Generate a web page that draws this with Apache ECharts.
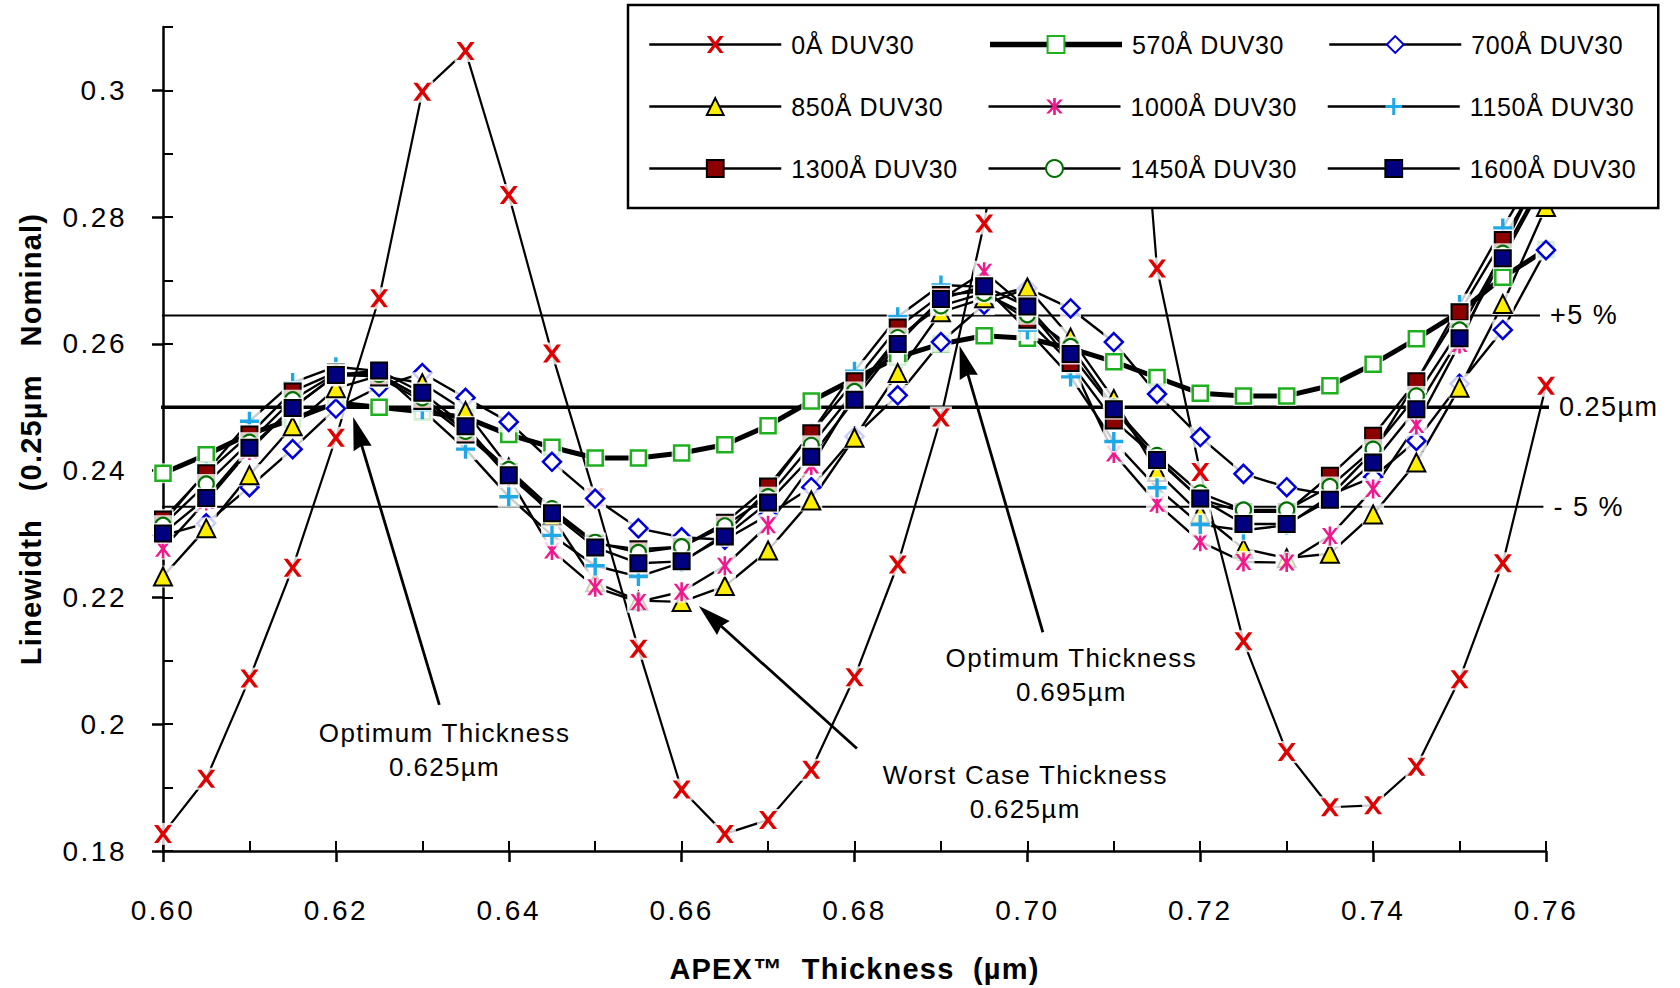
<!DOCTYPE html>
<html>
<head>
<meta charset="utf-8">
<script src="https://cdn.jsdelivr.net/npm/echarts@6/dist/echarts.min.js"></script>
<style>
html,body{margin:0;padding:0;background:#fff;}
#chart{width:1680px;height:988px;}
/* emulate the tracked (letter-spaced) lettering of the original */
#chart text[style*="25px"]{letter-spacing:0.6px;}
#chart text[style*="26px"]{letter-spacing:1.3px;}
#chart text[style*="27px"]{letter-spacing:1.5px;}
#chart text[style*="28px"]{letter-spacing:2.5px;}
#chart text[style*="bold"]{letter-spacing:1.2px;}
</style>
</head>
<body>
<div id="chart"></div>
<script>
// ---------- data ----------
const thickness = [0.600,0.605,0.610,0.615,0.620,0.625,0.630,0.635,0.640,0.645,0.650,0.655,0.660,0.665,0.670,0.675,0.680,0.685,0.690,0.695,0.700,0.705,0.710,0.715,0.720,0.725,0.730,0.735,0.740,0.745,0.750,0.755,0.760];

const duv0    = [0.1827,0.1914,0.2072,0.2247,0.2452,0.2672,0.2998,0.3062,0.2835,0.2585,0.2358,0.2119,0.1897,0.1827,0.1849,0.1928,0.2074,0.2252,0.2484,0.2790,0.3200,0.3520,0.3570,0.2719,0.2398,0.2131,0.1956,0.1869,0.1872,0.1933,0.2071,0.2254,0.2534];
const duv570  = [0.2396,0.2425,0.2458,0.2481,0.2507,0.2500,0.2493,0.2484,0.2457,0.2437,0.2420,0.2420,0.2428,0.2441,0.2471,0.2510,0.2545,0.2579,0.2600,0.2613,0.2609,0.2593,0.2572,0.2547,0.2522,0.2518,0.2518,0.2534,0.2568,0.2608,0.2650,0.2705,0.2749];
const duv700  = [0.2298,0.2317,0.2374,0.2434,0.2498,0.2532,0.2554,0.2515,0.2477,0.2414,0.2356,0.2309,0.2295,0.2291,0.2330,0.2374,0.2454,0.2519,0.2603,0.2662,0.2688,0.2656,0.2603,0.2521,0.2453,0.2395,0.2374,0.2362,0.2390,0.2447,0.2537,0.2622,0.2748];
const duv850  = [0.2233,0.2309,0.2393,0.2470,0.2530,0.2550,0.2538,0.2494,0.2405,0.2328,0.2224,0.2195,0.2193,0.2218,0.2274,0.2353,0.2452,0.2554,0.2650,0.2672,0.2689,0.2610,0.2513,0.2398,0.2332,0.2277,0.2262,0.2269,0.2331,0.2413,0.2531,0.2663,0.2816];
const duv1000 = [0.2277,0.2352,0.2432,0.2500,0.2550,0.2550,0.2515,0.2465,0.2390,0.2274,0.2216,0.2193,0.2209,0.2250,0.2314,0.2408,0.2520,0.2605,0.2670,0.2714,0.2656,0.2573,0.2427,0.2348,0.2288,0.2256,0.2255,0.2297,0.2371,0.2472,0.2600,0.2750,0.2890];
const duv1150 = [0.2318,0.2398,0.2478,0.2539,0.2564,0.2557,0.2496,0.2434,0.2359,0.2298,0.2250,0.2233,0.2255,0.2300,0.2370,0.2460,0.2557,0.2643,0.2693,0.2690,0.2622,0.2548,0.2446,0.2373,0.2315,0.2306,0.2314,0.2360,0.2430,0.2540,0.2662,0.2783,0.2900];
const duv1300 = [0.2323,0.2396,0.2457,0.2525,0.2555,0.2547,0.2510,0.2457,0.2398,0.2335,0.2285,0.2276,0.2280,0.2318,0.2375,0.2459,0.2541,0.2626,0.2677,0.2683,0.2638,0.2570,0.2479,0.2420,0.2355,0.2335,0.2335,0.2392,0.2455,0.2541,0.2650,0.2764,0.2880];
const duv1450 = [0.2314,0.2379,0.2445,0.2512,0.2553,0.2552,0.2515,0.2462,0.2402,0.2340,0.2287,0.2271,0.2280,0.2313,0.2359,0.2440,0.2525,0.2610,0.2660,0.2680,0.2646,0.2596,0.2500,0.2424,0.2365,0.2338,0.2338,0.2375,0.2434,0.2518,0.2622,0.2743,0.2865];
const duv1600 = [0.2301,0.2357,0.2436,0.2499,0.2551,0.2558,0.2523,0.2470,0.2393,0.2333,0.2279,0.2254,0.2257,0.2296,0.2350,0.2422,0.2512,0.2600,0.2671,0.2691,0.2659,0.2584,0.2497,0.2417,0.2356,0.2316,0.2316,0.2354,0.2413,0.2497,0.2609,0.2735,0.2860];

const seriesNames = ['0Å DUV30','570Å DUV30','700Å DUV30','850Å DUV30','1000Å DUV30','1150Å DUV30','1300Å DUV30','1450Å DUV30','1600Å DUV30'];

const xTicks = [0.60,0.62,0.64,0.66,0.68,0.70,0.72,0.74,0.76];
const yTicks = [0.18,0.20,0.22,0.24,0.26,0.28,0.30];

// reference levels
const refNames  = ['+5 %','0.25µm','- 5 %'];
const refLevels = [0.2645, 0.2500, 0.2343];
const refStartX = [0.5977, 0.5977, 0.5977];
const refEndX   = [0.7593, 0.7604, 0.7597];

// annotations (data coordinates)
const annotationTexts  = ['Optimum Thickness\n0.625µm','Worst Case Thickness\n0.625µm','Optimum Thickness\n0.695µm'];
const annotationTextAt = [[0.63257,0.19589],[0.69975,0.18938],[0.70508,0.20774]];
const arrowFrom = [[0.63197,0.20306],[0.68028,0.19616],[0.70179,0.21451]];
const arrowTo   = [[0.62255,0.24599],[0.66341,0.21691],[0.69269,0.25722]];

// ---------- styling ----------
const FONT = 'Liberation Sans, Arial, Helvetica, sans-serif';
const X_PATH = 'path://M0,0 L2.3,0 L5,3.5 L7.7,0 L10,0 L6.3,5 L10,10 L7.7,10 L5,6.5 L2.3,10 L0,10 L3.7,5 Z';
const AST_PATH = 'path://M4.2,0 L5.8,0 L5.8,10 L4.2,10 Z M0,0.8 L1.9,0.8 L5,4.3 L8.1,0.8 L10,0.8 L6.2,5 L10,9.2 L8.1,9.2 L5,5.7 L1.9,9.2 L0,9.2 L3.8,5 Z';
const PLUS_PATH = 'path://M4.1,0 L5.9,0 L5.9,4.1 L10,4.1 L10,5.9 L5.9,5.9 L5.9,10 L4.1,10 L4.1,5.9 L0,5.9 L0,4.1 L4.1,4.1 Z';
const ARROW_PATH = 'path://M5,0 L10,17.5 L5,16 L0,17.5 Z';

const seriesStyles = [
  {symbol: X_PATH,     size: 18,      halo: 22, color: '#e00000', border: '#e00000', bw: 0,   lw: 2.2},
  {symbol: 'rect',     size: 15,      halo: 20, color: '#ffffff', border: '#1fb01f', bw: 2.5, lw: 5},
  {symbol: 'diamond',  size: 18,      halo: 21, color: '#ffffff', border: '#0000dd', bw: 2.5, lw: 2.4},
  {symbol: 'triangle', size: 18,      halo: 22, color: '#ffee00', border: '#000000', bw: 2,   lw: 2.4},
  {symbol: AST_PATH,   size: [16,19], halo: 22, color: '#f0188c', border: '#f0188c', bw: 0,   lw: 2.4},
  {symbol: PLUS_PATH,  size: 19,      halo: 22, color: '#1ea8e8', border: '#1ea8e8', bw: 0,   lw: 2.4},
  {symbol: 'rect',     size: 16,      halo: 21, color: '#8b0000', border: '#000000', bw: 2,   lw: 2.4},
  {symbol: 'circle',   size: 15,      halo: 20, color: '#ffffff', border: '#007000', bw: 2.2, lw: 2.4},
  {symbol: 'rect',     size: 16,      halo: 21, color: '#000080', border: '#000000', bw: 2,   lw: 2.4}
];

const seriesValues = [duv0, duv570, duv700, duv850, duv1000, duv1150, duv1300, duv1450, duv1600];
const pointsOf = i => thickness.map((t, k) => [t, seriesValues[i][k]]);

const refSeries = refNames.map((nm, i) => ({
  name: nm,
  type: 'line',
  clip: false,
  silent: true,
  symbol: 'none',
  z: 1,
  lineStyle: {color: '#000', width: i === 1 ? 3.5 : 2},
  data: [[refStartX[i], refLevels[i]], [refEndX[i], refLevels[i]]],
  endLabel: {show: true, formatter: nm, color: '#000', fontSize: 27, fontFamily: FONT, distance: 10}
}));

// the connecting lines (also provide the legend icons)
const lineSeries = seriesNames.map((nm, i) => {
  const s = seriesStyles[i];
  return {
    name: nm,
    type: 'line',
    z: 2,
    symbol: s.symbol,
    symbolSize: s.size,
    showSymbol: false,
    lineStyle: {color: '#000', width: s.lw},
    itemStyle: {color: s.color, borderColor: s.border, borderWidth: s.bw},
    emphasis: {disabled: true},
    silent: true,
    data: pointsOf(i)
  };
});

// markers with a white box behind each one (as in the original plot)
const markerSeries = [];
seriesNames.forEach((nm, i) => {
  const s = seriesStyles[i];
  markerSeries.push({
    name: nm + ' halo',
    type: 'scatter',
    z: 3,
    silent: true,
    symbol: 'rect',
    symbolSize: s.halo,
    itemStyle: {color: '#ffffff'},
    emphasis: {disabled: true},
    data: pointsOf(i)
  });
  markerSeries.push({
    name: nm + ' marker',
    type: 'scatter',
    z: 3,
    silent: true,
    symbol: s.symbol,
    symbolSize: s.size,
    itemStyle: {color: s.color, borderColor: s.border, borderWidth: s.bw, opacity: 1},
    emphasis: {disabled: true},
    data: pointsOf(i)
  });
});

const annotationSeries = {
  name: 'annotations',
  type: 'line',
  silent: true,
  data: [],
  z: 4,
  markLine: {
    silent: true,
    animation: false,
    symbol: ['none', ARROW_PATH],
    symbolSize: 33,
    symbolKeepAspect: true,
    lineStyle: {color: '#000', width: 2.8, type: 'solid'},
    itemStyle: {color: '#000'},
    label: {show: false},
    emphasis: {disabled: true},
    data: arrowFrom.map((f, i) => [{coord: f}, {coord: arrowTo[i]}])
  },
  markPoint: {
    silent: true,
    animation: false,
    symbol: 'rect',
    symbolSize: 1,
    itemStyle: {color: 'rgba(0,0,0,0)'},
    label: {show: true, position: 'inside', color: '#000', fontSize: 26, lineHeight: 34, fontFamily: FONT, align: 'center', formatter: p => p.name},
    data: annotationTexts.map((t, i) => ({name: t, coord: annotationTextAt[i]}))
  }
};

const legendData = seriesNames.map((nm, i) => ({
  name: nm,
  lineStyle: {color: '#000', width: i === 1 ? 5.5 : 2.5}
}));

const chart = echarts.init(document.getElementById('chart'), null, {renderer: 'svg'});
chart.setOption({
  animation: false,
  backgroundColor: '#ffffff',
  textStyle: {fontFamily: FONT},
  grid: {left: 163, right: 134, top: 27, bottom: 129},
  legend: {
    data: legendData,
    left: 628, top: 5,
    width: 1010,
    orient: 'horizontal',
    padding: [20, 14, 20, 20],
    itemWidth: 132, itemHeight: 21, itemGap: 23,
    borderColor: '#000', borderWidth: 2.5, backgroundColor: '#ffffff',
    selectedMode: false,
    textStyle: {fontSize: 25, color: '#000', fontFamily: FONT, width: 173, lineHeight: 39, padding: [0, 0, 0, 5]}
  },
  xAxis: [
    {
      type: 'value', min: 0.60, max: 0.76, interval: 0.02, position: 'bottom',
      name: 'APEX™  Thickness  (µm)', nameLocation: 'middle', nameGap: 103,
      nameTextStyle: {fontSize: 29, fontWeight: 'bold', color: '#000', fontFamily: FONT},
      axisLine: {show: true, onZero: false, lineStyle: {color: '#000', width: 2.5}},
      axisTick: {show: true, inside: false, length: 11, lineStyle: {color: '#000', width: 2.5}},
      axisLabel: {show: true, margin: 45, fontSize: 28, color: '#000', fontFamily: FONT, formatter: v => v.toFixed(2), customValues: xTicks},
      splitLine: {show: false}
    },
    {
      type: 'value', min: 0.60, max: 0.76, interval: 0.01, position: 'bottom',
      axisLine: {show: false, onZero: false},
      axisTick: {show: true, inside: true, length: 10, lineStyle: {color: '#000', width: 2}},
      axisLabel: {show: false},
      splitLine: {show: false}
    }
  ],
  yAxis: [
    {
      type: 'value', min: 0.18, max: 0.31, position: 'left',
      name: 'Linewidth   (0.25µm   Nominal)', nameLocation: 'middle', nameGap: 118,
      nameTextStyle: {fontSize: 29, fontWeight: 'bold', color: '#000', fontFamily: FONT},
      axisLine: {show: true, onZero: false, lineStyle: {color: '#000', width: 2.5}},
      axisTick: {show: true, inside: false, length: 11, lineStyle: {color: '#000', width: 2.5}, customValues: yTicks},
      axisLabel: {show: true, margin: 36, fontSize: 28, color: '#000', fontFamily: FONT, customValues: yTicks, formatter: v => String(+v.toFixed(2))},
      splitLine: {show: false}
    },
    {
      type: 'value', min: 0.18, max: 0.31, interval: 0.01, position: 'left',
      axisLine: {show: false, onZero: false},
      axisTick: {show: true, inside: true, length: 10, lineStyle: {color: '#000', width: 2}},
      axisLabel: {show: false},
      splitLine: {show: false}
    }
  ],
  series: refSeries.concat(lineSeries, markerSeries, [annotationSeries])
});
</script>
</body>
</html>
